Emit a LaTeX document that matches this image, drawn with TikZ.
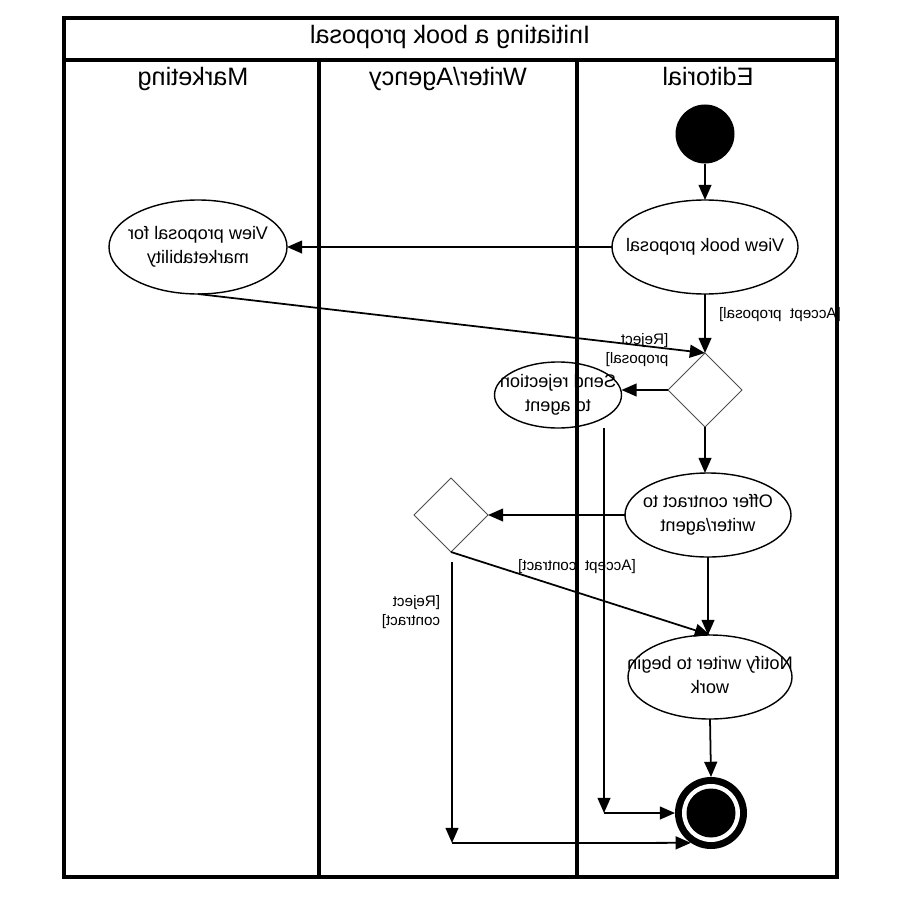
\documentclass[tikz,border=0pt]{standalone}
\usepackage{fontspec}
\setmainfont{Liberation Sans}
\usepackage{graphicx}
\usetikzlibrary{shapes.geometric,arrows.meta}
\newcommand{\mirc}[1]{\reflectbox{\begin{tabular}{@{}c@{}}#1\end{tabular}}}
\newcommand{\mirl}[1]{\reflectbox{\begin{tabular}{@{}l@{}}#1\end{tabular}}}
\tikzset{
  act/.style={ellipse, draw, line width=1.2pt, inner sep=0pt, outer sep=0pt},
  dec/.style={diamond, draw=black!70, line width=0.8pt, inner sep=0pt, outer sep=0pt,
              minimum width=2.22cm, minimum height=2.22cm},
  txt/.style={font=\fontsize{15.5}{20}\selectfont, inner sep=0pt},
  lbl/.style={font=\fontsize{13}{17}\selectfont, inner sep=0pt},
  head/.style={font=\fontsize{21.5}{25}\selectfont, inner sep=0pt},
  flow/.style={line width=1.5pt, -{Triangle[length=13pt,width=11pt]}},
  frame/.style={line width=2.6pt},
}
\begin{document}
\begin{tikzpicture}[x=0.03cm,y=-0.03cm]
\useasboundingbox (0,0) rectangle (900,900);
% frame and swimlanes
\draw[frame] (64,18) rectangle (837,877);
\draw[frame] (64,60) -- (837,60);
\draw[frame] (319,60) -- (319,877);
\draw[frame] (577,60) -- (577,877);
\node[head] (title) at (450,38) {\mirc{Initiating a book proposal}};
\node[head] (hm) at (193,80) {\mirc{Marketing}};
\node[head] (hw) at (448,80) {\mirc{Writer/Agency}};
\node[head] (he) at (708,80) {\mirc{Editorial}};
% nodes
\node[circle, fill=black, minimum size=1.77cm, inner sep=0pt, outer sep=0pt] (start) at (705,134) {};
\node[act, minimum width=5.58cm, minimum height=2.82cm] (vbp) at (705,247) {};
\node[txt] (vbpt) at (vbp) {\mirc{View book proposal}};
\node[act, minimum width=5.34cm, minimum height=2.82cm] (mk) at (198,247) {};
\node[txt] (mkt) at (mk) {\mirc{View proposal for\\marketability}};
\node[dec] (d1) at (705,390) {};
\node[act, minimum width=3.81cm, minimum height=1.98cm] (sr) at (558,395) {};
\node[txt] (srt) at (sr) {\mirc{Send rejection\\to agent}};
\node[act, minimum width=4.98cm, minimum height=2.52cm] (oc) at (708,515) {};
\node[txt] (oct) at (oc) {\mirc{Offer contract to\\writer/agent}};
\node[dec] (d2) at (451,515) {};
\node[act, minimum width=4.92cm, minimum height=2.52cm] (nw) at (710,677) {};
\node[txt] (nwt) at (nw) {\mirc{Notify writer to begin\\work}};
\node[circle, fill=black, minimum size=2.16cm, inner sep=0pt, outer sep=0pt] (fin) at (711,813) {};
\fill[white] (fin.center) circle (29);
\fill[black] (fin.center) circle (24.5);
% coordinates for free ends
\coordinate (r1) at (604,428);
\coordinate (r2) at (604,813);
\coordinate (c1) at (452,562);
\coordinate (c2) at (452,843);
% connectors
\draw[flow] (start) -- (vbp.north);
\draw[flow] (vbp.west) -- (mk.east);
\draw[flow] (vbp.south) -- (d1.north);
\draw[flow] (mk.south) -- (d1.north);
\draw[flow] (d1.west) -- (d1.west -| sr.east);
\draw[flow] (r1) -- (r2);
\draw[flow] (r2) -- (fin.west);
\draw[flow] (d1.south) -- (d1.south |- oc.north);
\draw[flow] (oc.west) -- (d2.east);
\draw[flow] (oc.south) -- (oc.south |- nw.north);
\draw[flow] (d2.south) -- (nw.north);
\draw[flow] (nw.south) -- (fin.north);
\draw[flow] (c1) -- (c2);
\draw[flow] (c2) -- (fin.236);
% guard labels
\node[lbl] (l1) at (780,315) {\mirc{[Accept~~proposal]}};
\node[lbl] (l2) at (637,350) {\mirl{[Reject\\proposal]}};
\node[lbl] (l3) at (577,567) {\mirc{[Accept~~contract]}};
\node[lbl] (l4) at (411,612) {\mirl{[Reject\\contract]}};
\end{tikzpicture}
\end{document}
